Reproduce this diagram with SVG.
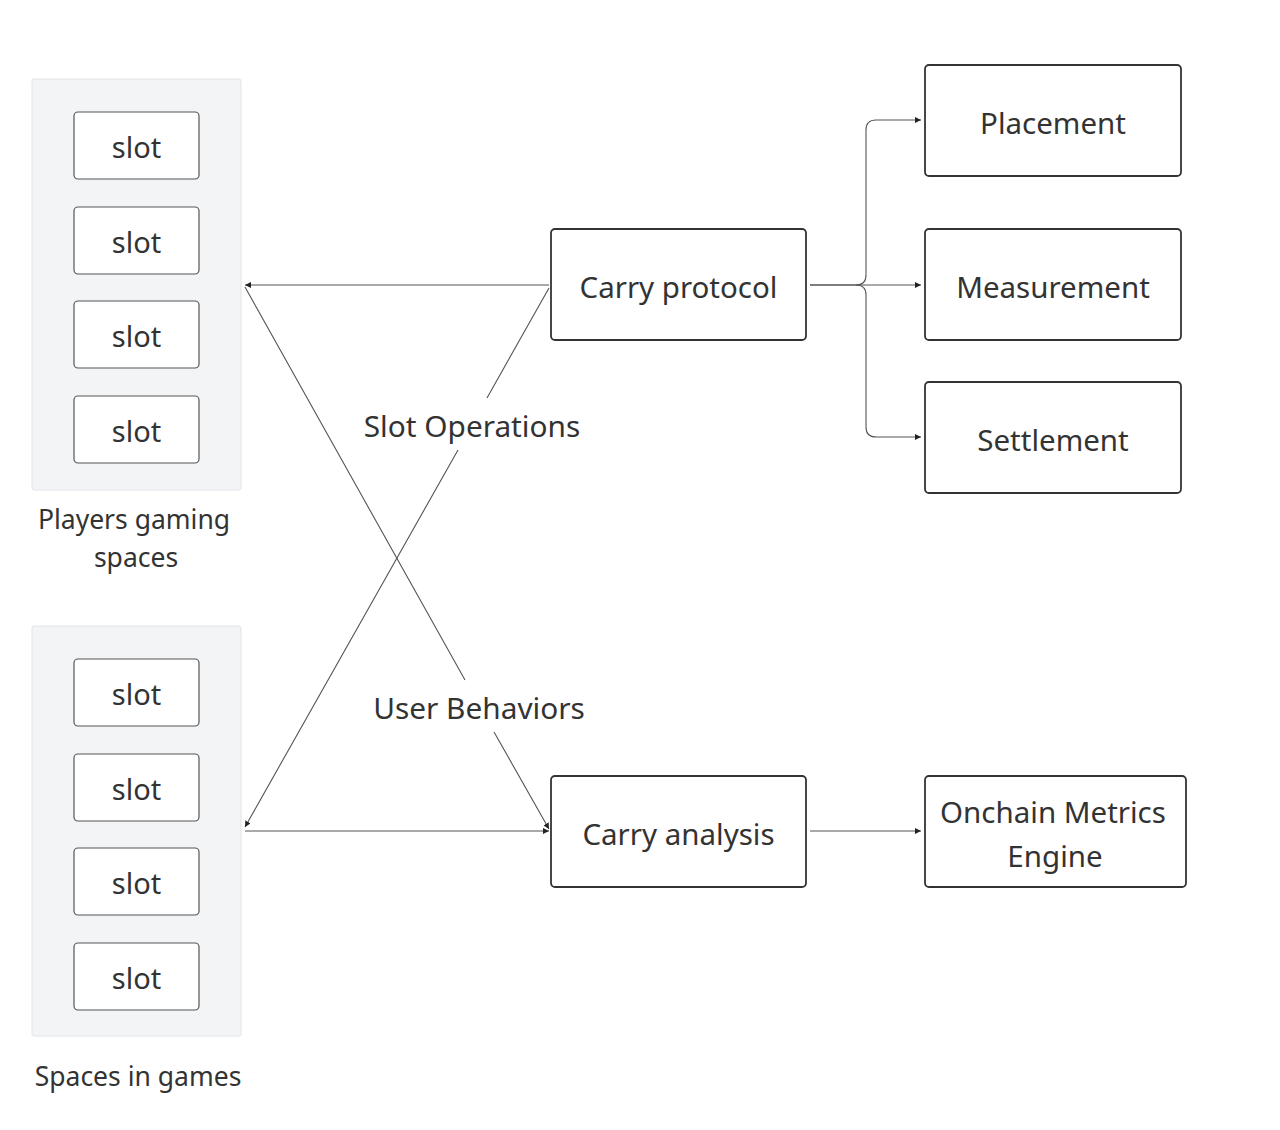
<svg xmlns="http://www.w3.org/2000/svg" width="1280" height="1130" viewBox="0 0 1280 1130">
<style>
text{font-family:"Noto Sans","Open Sans",sans-serif;fill:#333;text-anchor:middle;dominant-baseline:central}
.grp{fill:#f3f4f6;stroke:#e2e4e8;stroke-width:1}
.slot{fill:#fff;stroke:#555;stroke-width:1.2}
.box{fill:#fff;stroke:#333;stroke-width:1.8}
.t{font-size:29.5px}
.s{font-size:29px}
.lbl{font-size:26.5px}
.el{font-size:29.8px}
.e{fill:none;stroke:#555;stroke-width:1.1}
</style>
<defs>
<marker id="ah" viewBox="0 0 10 10" refX="10" refY="5" markerWidth="6" markerHeight="6" orient="auto" markerUnits="userSpaceOnUse">
<path d="M0,0 L10,5 L0,10 z" fill="#222"/>
</marker>
</defs>
<rect width="1280" height="1130" fill="#fff"/>
<g id="players">
<rect class="grp" x="32" y="79" width="209" height="411" rx="2"/>
<rect class="slot" x="74" y="112" width="125" height="67" rx="4"/><text class="s" x="136.5" y="146">slot</text>
<rect class="slot" x="74" y="207" width="125" height="67" rx="4"/><text class="s" x="136.5" y="241">slot</text>
<rect class="slot" x="74" y="301" width="125" height="67" rx="4"/><text class="s" x="136.5" y="335">slot</text>
<rect class="slot" x="74" y="396" width="125" height="67" rx="4"/><text class="s" x="136.5" y="430">slot</text>
<text class="lbl" x="134" y="519">Players gaming</text>
<text class="lbl" x="136" y="557">spaces</text>
</g>
<g id="spaces">
<rect class="grp" x="32" y="626" width="209" height="410" rx="2"/>
<rect class="slot" x="74" y="659" width="125" height="67" rx="4"/><text class="s" x="136.5" y="693">slot</text>
<rect class="slot" x="74" y="754" width="125" height="67" rx="4"/><text class="s" x="136.5" y="788">slot</text>
<rect class="slot" x="74" y="848" width="125" height="67" rx="4"/><text class="s" x="136.5" y="882">slot</text>
<rect class="slot" x="74" y="943" width="125" height="67" rx="4"/><text class="s" x="136.5" y="977">slot</text>
<text class="lbl" x="138" y="1076">Spaces in games</text>
</g>
<g id="carry-protocol"><rect class="box" x="551" y="229" width="255" height="111" rx="4"/><text class="t" x="678.5" y="286">Carry protocol</text></g>
<g id="carry-analysis"><rect class="box" x="551" y="776" width="255" height="111" rx="4"/><text class="t" x="678.5" y="833">Carry analysis</text></g>
<g id="placement"><rect class="box" x="925" y="65" width="256" height="111" rx="4"/><text class="t" x="1053" y="122">Placement</text></g>
<g id="measurement"><rect class="box" x="925" y="229" width="256" height="111" rx="4"/><text class="t" x="1053" y="286">Measurement</text></g>
<g id="settlement"><rect class="box" x="925" y="382" width="256" height="111" rx="4"/><text class="t" x="1053" y="439">Settlement</text></g>
<g id="onchain"><rect class="box" x="925" y="776" width="261" height="111" rx="4"/><text class="t" x="1053" y="811">Onchain Metrics</text><text class="t" x="1055" y="855">Engine</text></g>
<g id="connectors">
<path class="e" d="M549,285 L245,285" marker-end="url(#ah)"/>
<path class="e" d="M549,288 L487,398 M458,450 L245,827" marker-end="url(#ah)"/>
<path class="e" d="M245,287 L465,680 M494,732 L549,829" marker-end="url(#ah)"/>
<path class="e" d="M245,831 L549,831" marker-end="url(#ah)"/>
<path class="e" d="M810,285 L921,285" marker-end="url(#ah)"/>
<path class="e" d="M810,285 L856,285 Q866,285 866,275 L866,130 Q866,120 876,120 L921,120" marker-end="url(#ah)"/>
<path class="e" d="M856,285 Q866,285 866,295 L866,427 Q866,437 876,437 L921,437" marker-end="url(#ah)"/>
<path class="e" d="M810,831 L921,831" marker-end="url(#ah)"/>
<text class="el" x="472" y="425">Slot Operations</text>
<text class="el" x="479" y="707">User Behaviors</text>
</g>
</svg>
